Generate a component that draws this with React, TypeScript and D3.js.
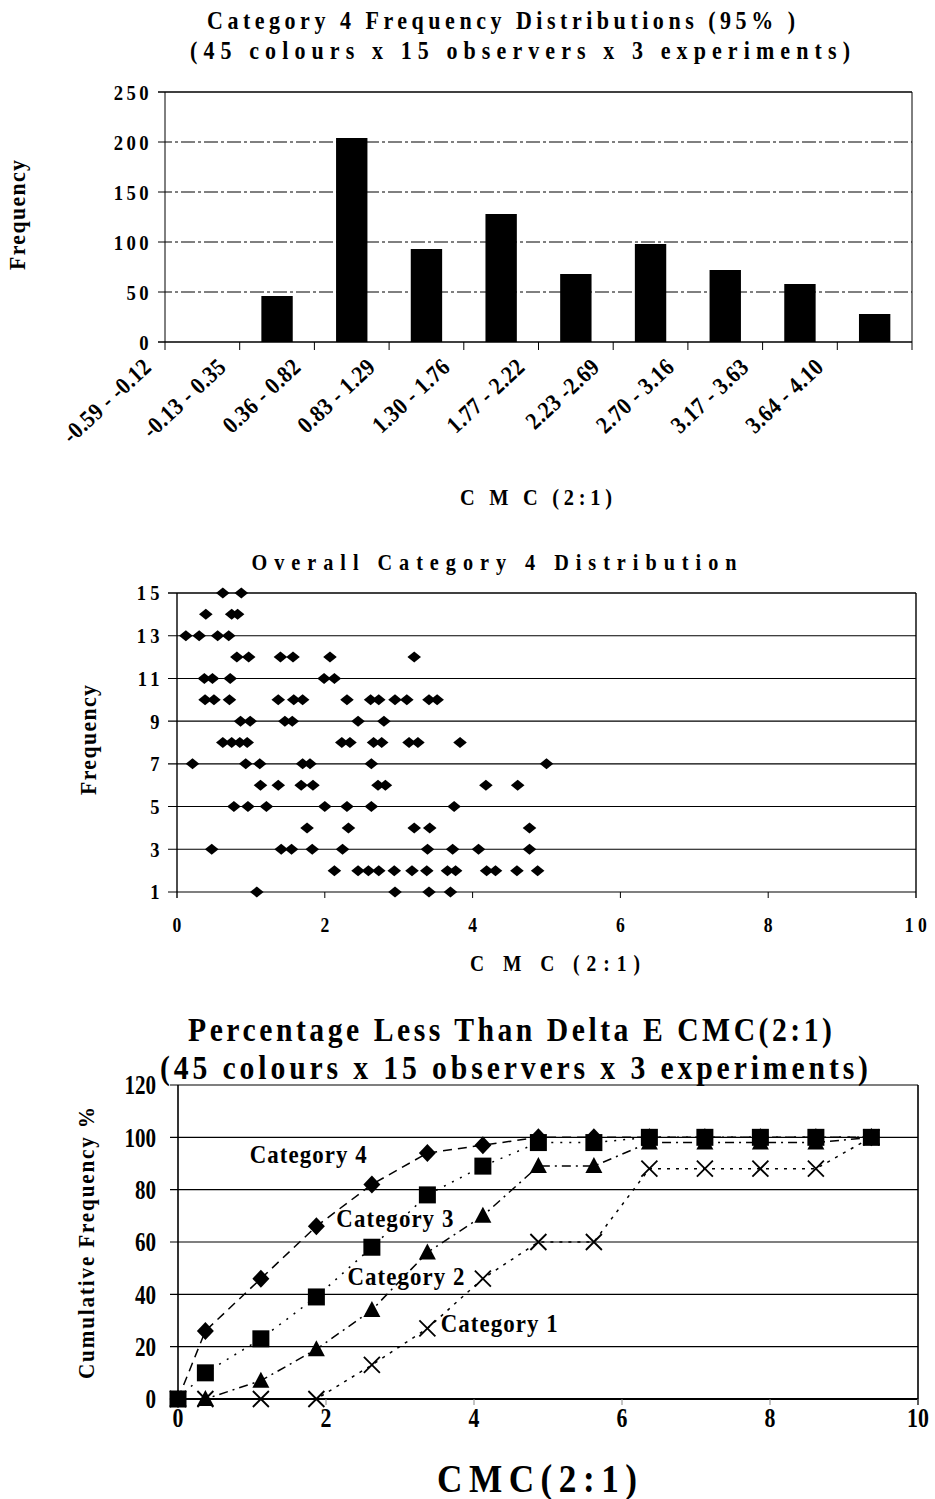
import { useEffect, useRef } from 'react'
import * as d3 from 'd3'

const W = 935
const H = 1499
const FONT = '"Liberation Serif", "Times New Roman", serif'

// chart 1: frequency distribution of CMC(2:1) bins
const histBins = [
  '-0.59 - -0.12',
  '-0.13 - 0.35',
  '0.36 - 0.82',
  '0.83 - 1.29',
  '1.30 - 1.76',
  '1.77 - 2.22',
  '2.23 -2.69',
  '2.70 - 3.16',
  '3.17 - 3.63',
  '3.64 - 4.10',
]
const histCounts = [0, 46, 204, 93, 128, 68, 98, 72, 58, 28]
const histTicks = [0, 50, 100, 150, 200, 250]

// chart 2: overall distribution, one list of CMC values per frequency level
const overallFreqs = [15, 14, 13, 12, 11, 10, 9, 8, 7, 6, 5, 4, 3, 2, 1]
const overallCmc = [
  [0.62, 0.87],
  [0.39, 0.74, 0.82],
  [0.12, 0.3, 0.55, 0.7],
  [0.81, 0.97, 1.4, 1.57, 2.07, 3.21],
  [0.37, 0.48, 0.72, 1.99, 2.13],
  [0.38, 0.5, 0.71, 1.37, 1.58, 1.7, 2.3, 2.62, 2.73, 2.95, 3.11, 3.41, 3.52],
  [0.86, 0.99, 1.46, 1.56, 2.45, 2.8],
  [0.62, 0.74, 0.85, 0.95, 2.23, 2.34, 2.66, 2.77, 3.14, 3.26, 3.83],
  [0.21, 0.93, 1.12, 1.7, 1.8, 2.63, 5.0],
  [1.13, 1.37, 1.68, 1.84, 2.72, 2.82, 4.18, 4.61],
  [0.77, 0.96, 1.21, 2.0, 2.3, 2.63, 3.75],
  [1.76, 2.32, 3.21, 3.42, 4.77],
  [0.47, 1.41, 1.55, 1.83, 2.24, 3.39, 3.73, 4.08, 4.77],
  [2.13, 2.45, 2.59, 2.73, 2.94, 3.18, 3.38, 3.66, 3.77, 4.19, 4.31, 4.6, 4.88],
  [1.08, 2.95, 3.41, 3.7],
]
const overallYTicks = [1, 3, 5, 7, 9, 11, 13, 15]
const overallXTicks = [0, 2, 4, 6, 8, 10]

// chart 3: cumulative percentage per category
const cmcSteps = [0, 0.37, 1.12, 1.87, 2.62, 3.37, 4.12, 4.87, 5.62, 6.37, 7.12, 7.87, 8.62, 9.37]
const cat4 = [0, 26, 46, 66, 82, 94, 97, 100, 100, 100, 100, 100, 100, 100]
const cat3 = [0, 10, 23, 39, 58, 78, 89, 98, 98, 100, 100, 100, 100, 100]
const cat2 = [0, 0, 7, 19, 34, 56, 70, 89, 89, 98, 98, 98, 98, 100]
const cat1 = [0, 0, 0, 0, 13, 27, 46, 60, 60, 88, 88, 88, 88, 100]
const cumNames = ['Category 4', 'Category 3', 'Category 2', 'Category 1']
const cumYTicks = [0, 20, 40, 60, 80, 100, 120]
const cumXTicks = [0, 2, 4, 6, 8, 10]

type G = d3.Selection<SVGGElement, unknown, null, undefined>

// bold serif text; sx squeezes glyphs horizontally like the condensed scan type
function txt(g: G, x: number, y: number, s: string, size: number, o: any = {}) {
  const sx = o.sx || 1
  const t = g
    .append('text')
    .attr('x', 0)
    .attr('y', 0)
    .attr('font-family', FONT)
    .attr('font-weight', 'bold')
    .attr('font-size', size)
    .attr('text-anchor', o.anchor || 'middle')
    .attr('dominant-baseline', 'central')
    .attr('fill', '#000')
    .attr('transform', `translate(${x},${y}) rotate(${o.rotate || 0}) scale(${sx},1)`)
    .text(s)
  if (o.spacing) t.attr('letter-spacing', o.spacing)
  if (o.len) t.attr('textLength', o.len / sx).attr('lengthAdjust', 'spacing')
  return t
}

function drawHistogram(g: G) {
  const left = 165, right = 912, top = 92, bottom = 342
  const x = d3.scaleBand().domain(histBins).range([left, right])
  const y = d3.scaleLinear().domain([0, 250]).range([bottom, top])

  txt(g, 501, 21, 'Category 4 Frequency Distributions (95% )', 25, { len: 588, sx: 0.88 })
  txt(g, 520, 51, '(45 colours x 15 observers x 3 experiments)', 25, { len: 660, sx: 0.88 })

  g.selectAll('line.grid')
    .data(histTicks)
    .join('line')
    .attr('x1', left - 7)
    .attr('x2', right)
    .attr('y1', (d) => y(d))
    .attr('y2', (d) => y(d))
    .attr('stroke', '#000')
    .attr('stroke-width', (d) => (d === 0 || d === 250 ? 1.3 : 1))
    .attr('stroke-dasharray', (d) => (d === 0 || d === 250 ? null : '14,3,3,3'))

  g.append('line').attr('x1', left).attr('x2', left).attr('y1', top).attr('y2', bottom).attr('stroke', '#000')
  g.append('line').attr('x1', right).attr('x2', right).attr('y1', top).attr('y2', bottom).attr('stroke', '#000')

  const bounds = histBins.map((b) => x(b) as number).concat([right])
  g.selectAll('line.xt')
    .data(bounds)
    .join('line')
    .attr('x1', (d) => d)
    .attr('x2', (d) => d)
    .attr('y1', bottom)
    .attr('y2', bottom + 8)
    .attr('stroke', '#000')

  const bw = x.bandwidth() * 0.42
  g.selectAll('rect.bar')
    .data(histCounts)
    .join('rect')
    .attr('x', (_, i) => (x(histBins[i]) as number) + (x.bandwidth() - bw) / 2)
    .attr('y', (d) => y(d))
    .attr('width', bw)
    .attr('height', (d) => bottom - y(d))
    .attr('fill', '#000')

  histTicks.forEach((t) => txt(g, 152, y(t), String(t), 22, { anchor: 'end', spacing: 4, sx: 0.85 }))

  histBins.forEach((b) => {
    const cx = (x(b) as number) + x.bandwidth() / 2 - 55
    txt(g, cx, 363, b, 24, { anchor: 'end', rotate: -43, spacing: 0.5, sx: 0.88 })
  })

  txt(g, 536, 497, 'C M C (2:1)', 24, { len: 152, sx: 0.85 })
  txt(g, 17, 215, 'Frequency', 23, { rotate: -90, len: 110, sx: 0.95 })
}

function drawOverall(g: G) {
  const left = 177, right = 916, top = 593, bottom = 892
  const x = d3.scaleLinear().domain([0, 10]).range([left, right])
  const y = d3.scaleLinear().domain([1, 15]).range([bottom, top])

  txt(g, 494, 563, 'Overall Category 4 Distribution', 23, { len: 485, sx: 0.88 })

  g.selectAll('line.grid')
    .data(overallYTicks)
    .join('line')
    .attr('x1', left - 9)
    .attr('x2', right)
    .attr('y1', (d) => y(d))
    .attr('y2', (d) => y(d))
    .attr('stroke', '#000')
    .attr('stroke-width', (d) => (d === 15 ? 1.6 : 1.1))

  g.append('line').attr('x1', left).attr('x2', left).attr('y1', top).attr('y2', bottom + 6).attr('stroke', '#000').attr('stroke-width', 1.4)
  g.append('line').attr('x1', right).attr('x2', right).attr('y1', top).attr('y2', bottom + 6).attr('stroke', '#000').attr('stroke-width', 1.4)

  g.selectAll('line.xt')
    .data(overallXTicks.slice(1, -1))
    .join('line')
    .attr('x1', (d) => x(d))
    .attr('x2', (d) => x(d))
    .attr('y1', bottom)
    .attr('y2', bottom + 6)
    .attr('stroke', '#000')

  overallYTicks.forEach((t) => txt(g, 164, y(t), String(t), 21, { anchor: 'end', spacing: 5, sx: 0.88 }))
  overallXTicks.forEach((t) => txt(g, x(t) + (t === 10 ? 2 : 0), 925, String(t), 20, { spacing: t === 10 ? 5 : 0, sx: 0.88 }))

  const pts = overallFreqs.flatMap((f, i) => overallCmc[i].map((c) => [c, f]))
  g.selectAll('path.pt')
    .data(pts)
    .join('path')
    .attr('d', 'M0,-5.5L6.8,0L0,5.5L-6.8,0Z')
    .attr('transform', (d) => `translate(${x(d[0])},${y(d[1])})`)
    .attr('fill', '#000')

  txt(g, 555, 963, 'C M C  (2:1)', 23, { len: 170, sx: 0.85 })
  txt(g, 88, 740, 'Frequency', 23, { rotate: -90, len: 110, sx: 0.95 })
}

function drawCumulative(g: G) {
  const left = 178, right = 918, top = 1085, bottom = 1399
  const x = d3.scaleLinear().domain([0, 10]).range([left, right])
  const y = d3.scaleLinear().domain([0, 120]).range([bottom, top])

  txt(g, 510, 1030, 'Percentage Less Than Delta E CMC(2:1)', 33, { len: 644, sx: 0.9 })
  txt(g, 514, 1068, '(45 colours x 15 observers x 3 experiments)', 33, { len: 708, sx: 0.9 })

  g.selectAll('line.grid')
    .data(cumYTicks)
    .join('line')
    .attr('x1', left - 8)
    .attr('x2', right)
    .attr('y1', (d) => y(d))
    .attr('y2', (d) => y(d))
    .attr('stroke', '#000')
    .attr('stroke-width', (d) => (d === 0 ? 2 : 1.2))

  g.append('line').attr('x1', left).attr('x2', left).attr('y1', top).attr('y2', bottom).attr('stroke', '#000').attr('stroke-width', 1.6)
  g.append('line').attr('x1', right).attr('x2', right).attr('y1', top).attr('y2', bottom + 6).attr('stroke', '#000').attr('stroke-width', 1.6)

  g.selectAll('line.xt')
    .data(cumXTicks.slice(1))
    .join('line')
    .attr('x1', (d) => x(d))
    .attr('x2', (d) => x(d))
    .attr('y1', bottom)
    .attr('y2', bottom + 6)
    .attr('stroke', '#888')

  cumYTicks.forEach((t) => txt(g, 156, y(t), String(t), 27, { anchor: 'end', sx: 0.78 }))
  cumXTicks.forEach((t) => txt(g, x(t), 1418, String(t), 28, { sx: 0.78 }))

  const series = [cat4, cat3, cat2, cat1]
  const dashes = ['9,6', '2,7', '9,5,2,5', '3,6']
  const line = d3
    .line<number>()
    .x((_, i) => x(cmcSteps[i]))
    .y((d) => y(d))

  series.forEach((vals, si) => {
    g.append('path')
      .attr('d', line(vals) as string)
      .attr('fill', 'none')
      .attr('stroke', '#000')
      .attr('stroke-width', 1.5)
      .attr('stroke-dasharray', dashes[si])

    const m = g
      .selectAll(`.m${si}`)
      .data(vals)
      .join('g')
      .attr('transform', (d, i) => `translate(${x(cmcSteps[i])},${y(d)})`)
    if (si === 0) m.append('path').attr('d', 'M0,-9L8.5,0L0,9L-8.5,0Z').attr('fill', '#000')
    if (si === 1) m.append('rect').attr('x', -8.5).attr('y', -8.5).attr('width', 17).attr('height', 17).attr('fill', '#000')
    if (si === 2) m.append('path').attr('d', 'M0,-9L8.5,7L-8.5,7Z').attr('fill', '#000')
    if (si === 3)
      m.append('path').attr('d', 'M-8,-8L8,8M-8,8L8,-8').attr('stroke', '#000').attr('stroke-width', 1.8).attr('fill', 'none')
  })

  const notes: [number, number][] = [
    [0.97, 93.5],
    [2.14, 69],
    [2.29, 47],
    [3.55, 29],
  ]
  cumNames.forEach((n, i) => txt(g, x(notes[i][0]), y(notes[i][1]), n, 26, { anchor: 'start', len: 117, sx: 0.88 }))

  txt(g, 537, 1478, 'CMC(2:1)', 40, { len: 200, sx: 0.88 })
  txt(g, 86, 1243, 'Cumulative Frequency %', 23, { rotate: -90, len: 272, sx: 0.92 })
}

export default function App() {
  const ref = useRef<SVGSVGElement>(null)

  useEffect(() => {
    const svg = d3.select(ref.current)
    svg.selectAll('*').remove()
    svg.append('rect').attr('width', W).attr('height', H).attr('fill', '#fff')
    drawHistogram(svg.append('g') as G)
    drawOverall(svg.append('g') as G)
    drawCumulative(svg.append('g') as G)
  }, [])

  return <svg ref={ref} width={W} height={H} style={{ position: 'absolute', left: 0, top: 0 }} />
}
